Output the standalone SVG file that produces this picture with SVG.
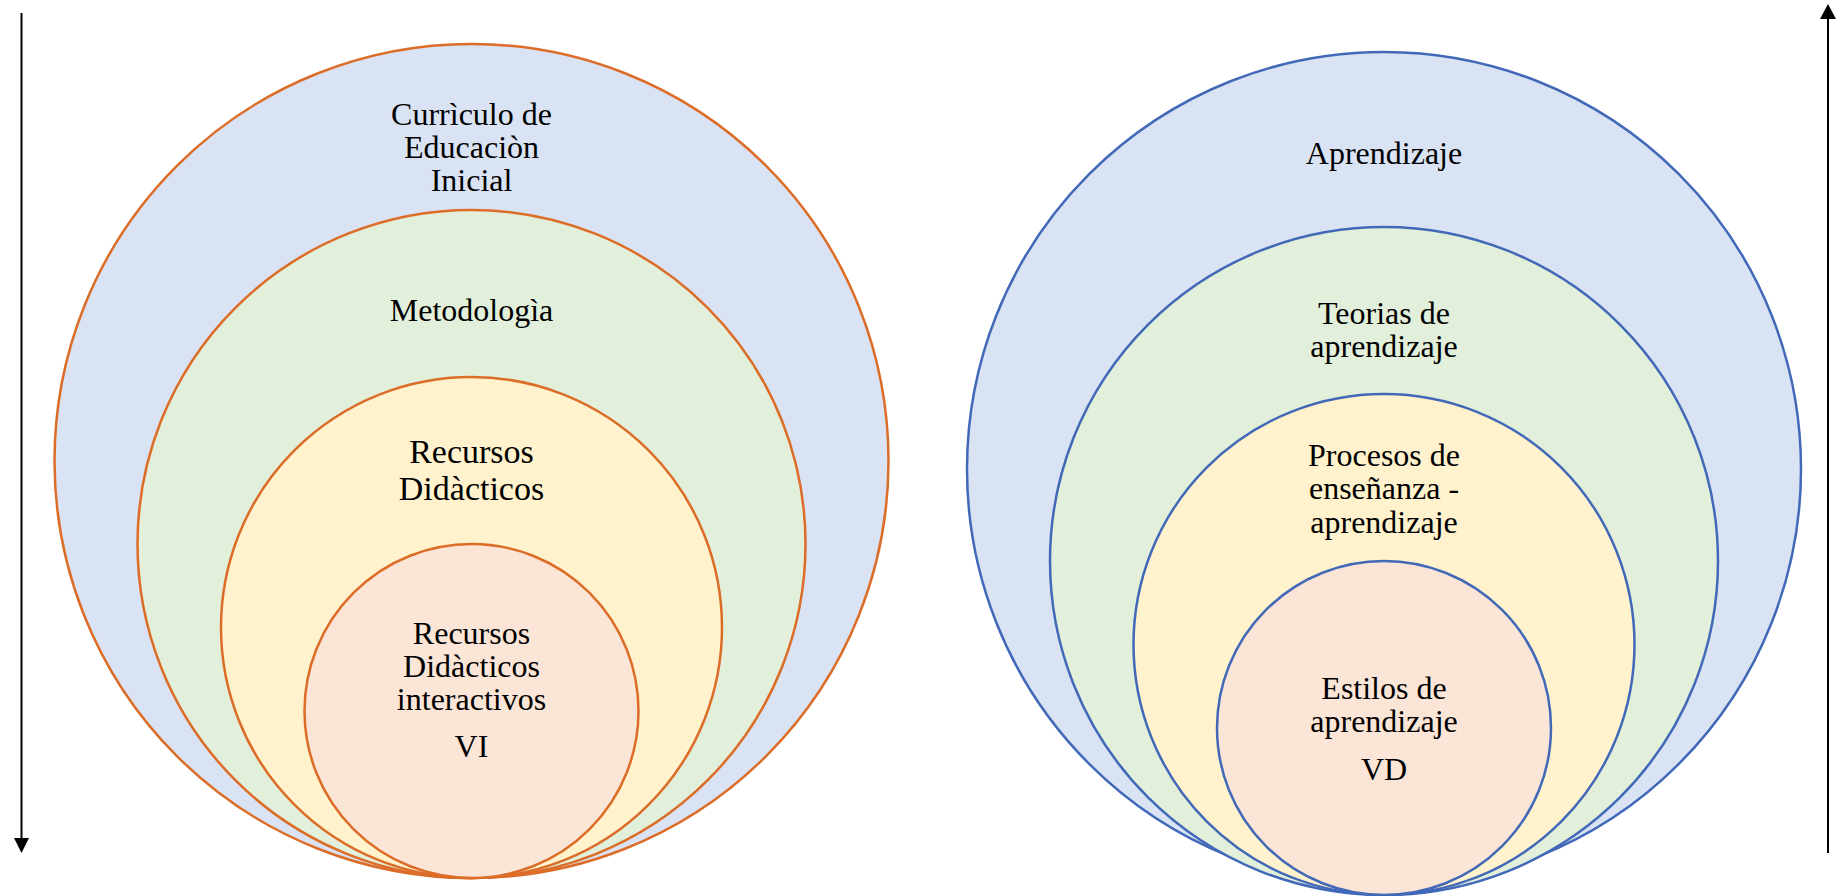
<svg xmlns="http://www.w3.org/2000/svg" width="1841" height="896" viewBox="0 0 1841 896">
<defs>
<style>
.o{stroke:#DC6D28;stroke-width:2.5}
.b{stroke:#4169B8;stroke-width:2.5}
.f1{fill:#DAE3F3}.f2{fill:#E2EFDA}.f3{fill:#FFF2CC}.f4{fill:#FBE5D6}
text{font-family:"Liberation Serif","Times New Roman",serif;font-size:32px;fill:#000;text-anchor:middle}
.ax{stroke:#000;stroke-width:2}
</style>
</defs>
<rect width="1841" height="896" fill="#fff"/>
<g id="connectors">
<line class="ax" x1="21.5" y1="13" x2="21.5" y2="840"/>
<polygon points="14,838 29,838 21.5,853" fill="#000"/>
<line class="ax" x1="1828" y1="17" x2="1828" y2="853"/>
<polygon points="1820,19 1836,19 1828,4" fill="#000"/>
</g>
<g id="left-1"><circle class="o f1" cx="471.5" cy="461" r="417"/>
<text x="471.5" y="125">Currìculo de</text><text x="471.5" y="158">Educaciòn</text><text x="471.5" y="191">Inicial</text></g>
<g id="left-2"><circle class="o f2" cx="471.5" cy="544" r="334"/>
<text x="471.5" y="321">Metodologìa</text></g>
<g id="left-3"><circle class="o f3" cx="471.5" cy="627.5" r="250.5"/>
<text x="471.5" y="463" style="font-size:34px">Recursos</text><text x="471.5" y="500" style="font-size:34px">Didàcticos</text></g>
<g id="left-4"><circle class="o f4" cx="471.5" cy="711" r="167"/>
<text x="471.5" y="644">Recursos</text><text x="471.5" y="677">Didàcticos</text><text x="471.5" y="710">interactivos</text><text x="471.5" y="757">VI</text></g>
<g id="right-1"><circle class="b f1" cx="1384" cy="469" r="417"/>
<text x="1384" y="164">Aprendizaje</text></g>
<g id="right-2"><circle class="b f2" cx="1384" cy="561" r="334"/>
<text x="1384" y="324">Teorias de</text><text x="1384" y="357">aprendizaje</text></g>
<g id="right-3"><circle class="b f3" cx="1384" cy="644.5" r="250.5"/>
<text x="1384" y="466">Procesos de</text><text x="1384" y="499">enseñanza -</text><text x="1384" y="533">aprendizaje</text></g>
<g id="right-4"><circle class="b f4" cx="1384" cy="728" r="167"/>
<text x="1384" y="699">Estilos de</text><text x="1384" y="732">aprendizaje</text><text x="1384" y="780">VD</text></g>
</svg>
